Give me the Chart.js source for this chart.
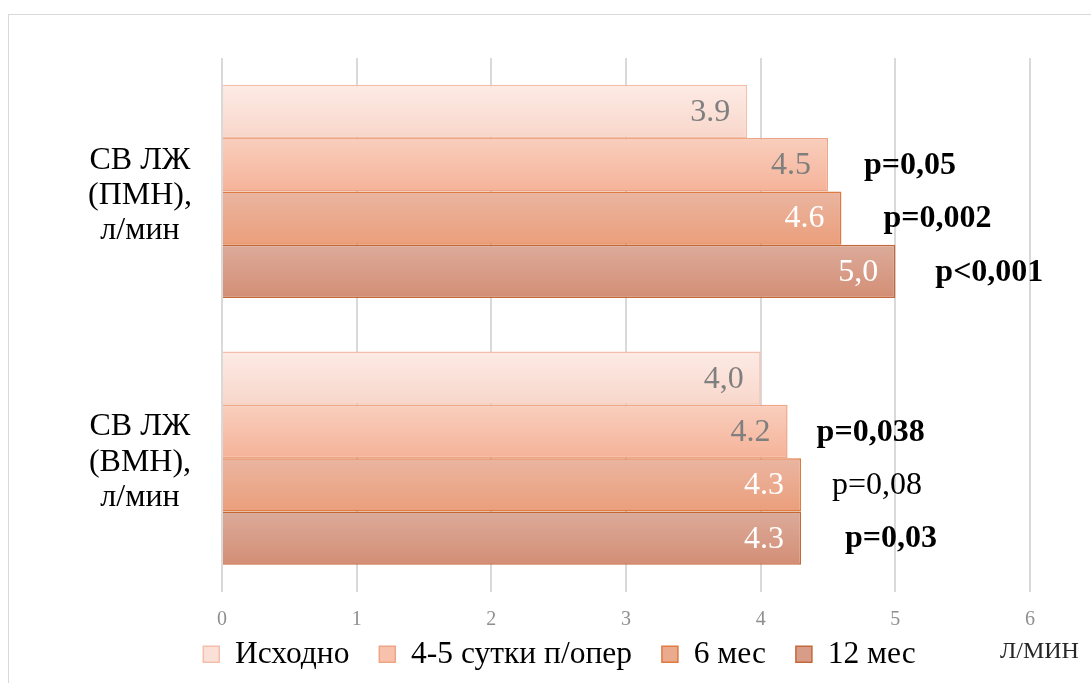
<!DOCTYPE html>
<html><head><meta charset="utf-8">
<script src="https://cdn.jsdelivr.net/npm/chart.js@4"></script>
<style>
html,body{margin:0;padding:0;background:#fff;overflow:hidden;width:1091px;height:683px;}
#frame{position:absolute;left:8px;top:14px;width:1200px;height:800px;border:1.5px solid #d9d9d9;box-sizing:border-box;}
#wrap{position:absolute;left:0;top:0;width:1091px;height:683px;}
</style></head>
<body>
<div id="frame"></div>
<div id="wrap"><canvas id="c" width="1091" height="683"></canvas></div>
<script>
// ---- data ----
const categories = [['СВ ЛЖ', '(ПМН),', 'л/мин'], ['СВ ЛЖ', '(ВМН),', 'л/мин']];
const seriesNames = ['Исходно', '4-5 сутки п/опер', '6 мес', '12 мес'];
const baseline = [3.9, 4.0];
const postOp = [4.5, 4.2];
const month6 = [4.6, 4.3];
const month12 = [5.0, 4.3];
const baselineLabels = ['3.9', '4,0'];
const postOpLabels = ['4.5', '4.2'];
const month6Labels = ['4.6', '4.3'];
const month12Labels = ['5,0', '4.3'];
const pPostOp = ['p=0,05', 'p=0,038'];
const pMonth6 = ['p=0,002', 'p=0,08'];
const pMonth12 = ['p<0,001', 'p=0,03'];
const pPostOpBold = [true, true];
const pMonth6Bold = [true, false];
const pMonth12Bold = [true, true];
const xMin = 0, xMax = 6, xStep = 1;
const axisUnit = 'Л/МИН';

// ---- styles ----
const FONT = "'Liberation Serif', 'Times New Roman', serif";
const pOffsets = { 1: [36, 29], 2: [42, 31], 3: [40, 44] };

const datasets = [
  { label: seriesNames[0], data: baseline, valueLabels: baselineLabels,
    backgroundColor: '#fae0d7', borderColor: '#f3bfab', gradTop: '#fdebe5', gradBottom: '#f8d6ca', labelColor: '#7f7f7f' },
  { label: seriesNames[1], data: postOp, valueLabels: postOpLabels, pTexts: pPostOp, pBold: pPostOpBold,
    backgroundColor: '#f7c1ab', borderColor: '#eda585', gradTop: '#f9cebd', gradBottom: '#f5b399', labelColor: '#7f7f7f' },
  { label: seriesNames[2], data: month6, valueLabels: month6Labels, pTexts: pMonth6, pBold: pMonth6Bold,
    backgroundColor: '#eaaa8e', borderColor: '#df7a43', gradTop: '#eab5a1', gradBottom: '#eb9f7b', labelColor: '#ffffff' },
  { label: seriesNames[3], data: month12, valueLabels: month12Labels, pTexts: pMonth12, pBold: pMonth12Bold,
    backgroundColor: '#d89d88', borderColor: '#c4683a', gradTop: '#dcab9a', gradBottom: '#d38e75', labelColor: '#ffffff' }
].map(d => Object.assign(d, { borderWidth: 1.5, borderSkipped: 'start', categoryPercentage: 0.8, barPercentage: 1.0 }));

const gradientPlugin = {
  id: 'gradientBars',
  beforeDatasetsDraw(chart) {
    const ctx = chart.ctx;
    chart.data.datasets.forEach((ds, i) => {
      chart.getDatasetMeta(i).data.forEach(el => {
        const top = el.y - el.height / 2, bottom = el.y + el.height / 2;
        const g = ctx.createLinearGradient(0, top, 0, bottom);
        g.addColorStop(0, ds.gradTop);
        g.addColorStop(1, ds.gradBottom);
        el.options = Object.assign({}, el.options, { backgroundColor: g });
      });
    });
  }
};

const labelPlugin = {
  id: 'barLabels',
  afterDatasetsDraw(chart) {
    const ctx = chart.ctx;
    ctx.save();
    ctx.textBaseline = 'middle';
    chart.data.datasets.forEach((ds, i) => {
      chart.getDatasetMeta(i).data.forEach((el, j) => {
        ctx.font = '32px ' + FONT;
        ctx.fillStyle = ds.labelColor;
        ctx.textAlign = 'right';
        ctx.fillText(ds.valueLabels[j], el.x - 17, el.y + 1);
        if (ds.pTexts) {
          ctx.font = (ds.pBold[j] ? 'bold ' : '') + '32px ' + FONT;
          ctx.fillStyle = '#000';
          ctx.textAlign = 'left';
          ctx.fillText(ds.pTexts[j], el.x + pOffsets[i][j], el.y + 1);
        }
      });
    });
    ctx.font = '24px ' + FONT;
    ctx.fillStyle = '#262626';
    ctx.textAlign = 'left';
    ctx.fillText(axisUnit, chart.chartArea.right - 30, 652);
    ctx.restore();
  }
};

new Chart(document.getElementById('c'), {
  type: 'bar',
  data: { labels: categories, datasets },
  options: {
    indexAxis: 'y',
    responsive: false,
    animation: false,
    layout: { padding: { top: 58, right: 61, left: 89, bottom: 3 } },
    scales: {
      x: {
        min: xMin, max: xMax,
        ticks: { stepSize: xStep, color: '#8f8f8f', font: { family: FONT, size: 20 }, padding: 16 },
        grid: { color: '#d9d9d9', lineWidth: 2, drawTicks: false },
        border: { display: false },
        afterFit(s) { s.height = 47; }
      },
      y: {
        grid: { display: false, drawTicks: false },
        border: { display: false },
        ticks: { crossAlign: 'center', padding: 30, labelOffset: 4, color: '#000', font: { family: FONT, size: 32, lineHeight: 1.1 } },
        afterFit(s) { s.width = 133; s.paddingTop = 0; s.paddingBottom = 0; }
      }
    },
    plugins: {
      legend: {
        position: 'bottom',
        labels: {
          boxWidth: 16, boxHeight: 16, padding: 0, color: '#000', font: { family: FONT, size: 31.5, lineHeight: 1 },
          generateLabels(chart) {
            const items = Chart.defaults.plugins.legend.labels.generateLabels(chart);
            items.forEach((it, k) => { if (k < items.length - 1) it.text = it.text + '   \u2009'; });
            return items;
          }
        }
      },
      tooltip: { enabled: false }
    }
  },
  plugins: [gradientPlugin, labelPlugin]
});
</script>
</body></html>
